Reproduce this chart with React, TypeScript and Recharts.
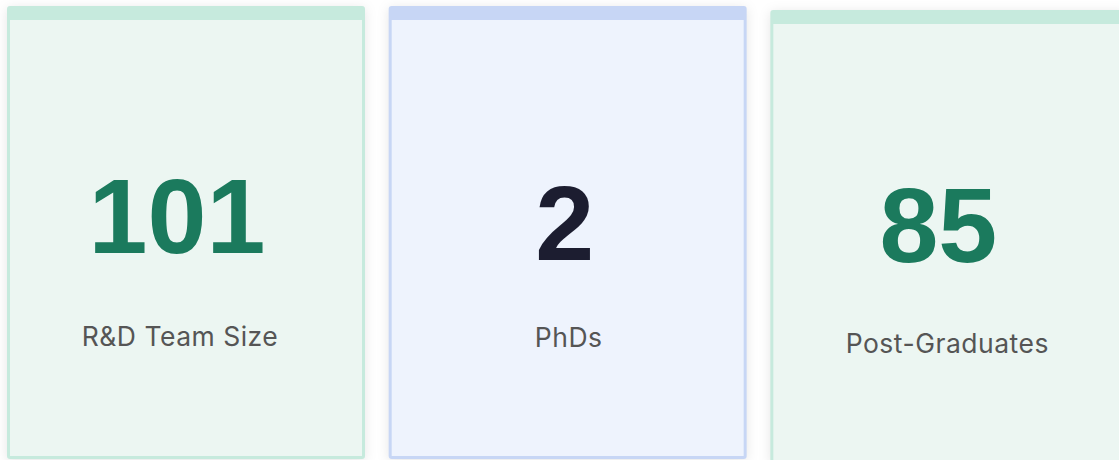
import { BarChart, Bar, XAxis, YAxis, LabelList } from 'recharts';

// three headline figures, one tile each
const METRICS = ['R&D Team Size', 'PhDs', 'Post-Graduates'];
const COUNTS = [101, 2, 85];

const GREEN = { fill: '#ECF6F2', edge: '#C6EADD', ink: '#1B7A5D' };
const BLUE  = { fill: '#EEF3FD', edge: '#C7D6F5', ink: '#1C1D30' };
const THEMES = [GREEN, BLUE, GREEN];
const DROP = [0, 0, 4]; // last tile sits a little lower

// small per-tile text nudges, the original isn't perfectly centred
const FIG_DX = [-9, -3, -11];
const FIG_Y  = [247, 254, 252];
const CAP_DX = [-6, 1, -2];
const CAP_Y  = [340, 341, 343];

const PLOT_TOP = 6;

const data = METRICS.map((name, i) => ({ name, count: COUNTS[i] }));

const pickIndex = (p: any) => {
  if (typeof p.index === 'number') return p.index;
  const i = COUNTS.indexOf(Number(p.value));
  return i >= 0 ? i : METRICS.indexOf(String(p.value));
};

const box = (p: any) => {
  const vb = p.viewBox && p.viewBox.width != null ? p.viewBox : p;
  return { x: Number(vb.x ?? p.x), width: Number(vb.width ?? p.width) };
};

const Tile = (p: any) => {
  const { x, y, width, height } = p;
  const i = pickIndex(p);
  const t = THEMES[i] ?? GREEN;
  const top = y + (DROP[i] ?? 0);
  return (
    <g>
      <rect
        x={x} y={top} width={width} height={height} rx={3}
        fill={t.edge}
        style={{ filter: 'drop-shadow(0px 2px 6px rgba(0,0,0,0.10))' }}
      />
      <rect x={x + 3} y={top + 14} width={width - 6} height={height - 17} fill={t.fill} />
    </g>
  );
};

const Figure = (p: any) => {
  const i = pickIndex(p);
  const { x, width } = box(p);
  return (
    <text
      x={x + width / 2 + (FIG_DX[i] ?? 0)}
      y={PLOT_TOP + (DROP[i] ?? 0) + (FIG_Y[i] ?? 250)}
      textAnchor="middle"
      fill={(THEMES[i] ?? GREEN).ink}
      style={{ fontFamily: '"Liberation Sans", Arial, sans-serif', fontWeight: 700, fontSize: 106 }}
    >
      {COUNTS[i]}
    </text>
  );
};

const Caption = (p: any) => {
  const i = pickIndex(p);
  const { x, width } = box(p);
  return (
    <text
      x={x + width / 2 + (CAP_DX[i] ?? 0)}
      y={PLOT_TOP + (DROP[i] ?? 0) + (CAP_Y[i] ?? 340)}
      textAnchor="middle"
      fill="#555555"
      style={{ fontFamily: 'Inter, "Noto Sans", sans-serif', fontSize: 26.5, letterSpacing: 0.5 }}
    >
      {METRICS[i]}
    </text>
  );
};

export default function App() {
  return (
    <div style={{ position: 'fixed', left: 0, top: 0, width: 1119, height: 460, overflow: 'hidden', background: '#fff' }}>
      <div style={{ position: 'absolute', left: -5, top: 0 }}>
        <BarChart
          width={1145}
          height={460}
          data={data}
          margin={{ top: PLOT_TOP, right: 0, bottom: 1, left: 0 }}
          barCategoryGap={12}
        >
          <XAxis dataKey="name" hide />
          <YAxis hide domain={[0, 120]} />
          <Bar
            dataKey="count"
            fill="transparent"
            isAnimationActive={false}
            background={(props: any) => <Tile {...props} />}
          >
            <LabelList dataKey="count" content={(props: any) => <Figure {...props} />} />
            <LabelList dataKey="name" content={(props: any) => <Caption {...props} />} />
          </Bar>
        </BarChart>
      </div>
    </div>
  );
}
